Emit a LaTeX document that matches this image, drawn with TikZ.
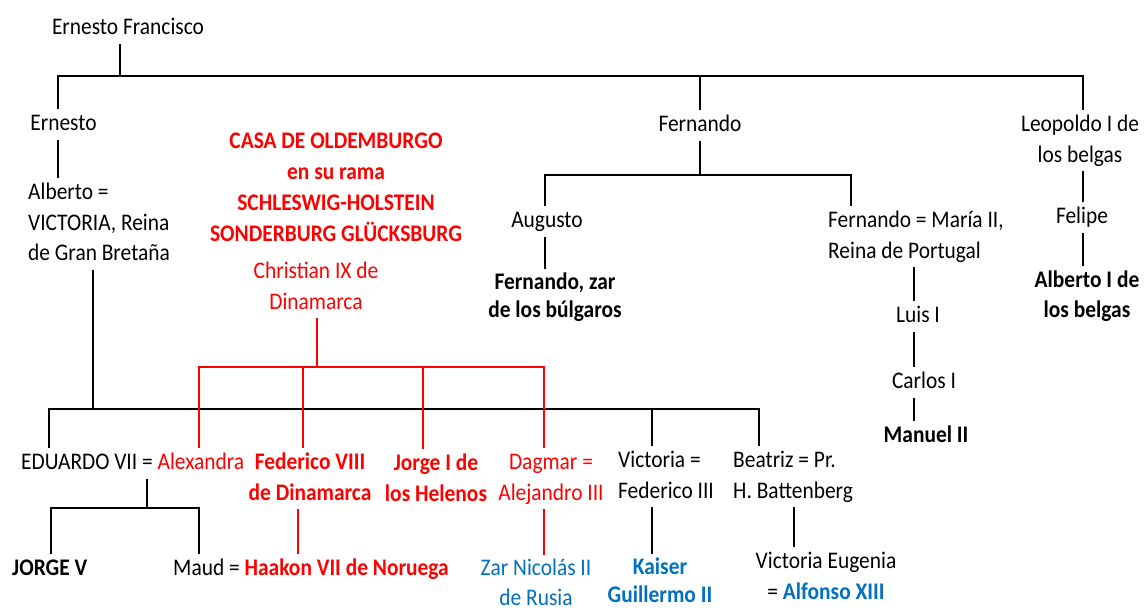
\documentclass[tikz,border=0pt]{standalone}
\usepackage{fontspec}
\setmainfont{Carlito}[FakeStretch=0.9]
\definecolor{myblue}{RGB}{0,112,192}
\definecolor{myred}{RGB}{255,0,0}
\begin{document}
\begin{tikzpicture}[x=1pt,y=-1pt,
  txt/.style={inner sep=0pt, font=\fontsize{23.8}{30.5}\selectfont,
    execute at begin node=\strut, execute at end node=\strut},
  ctr/.style={txt, anchor=north, align=center},
  lft/.style={txt, anchor=north west, align=left},
  nodepth/.style={execute at end node={}},
  bl/.style={draw=black, line width=2pt},
  rl/.style={draw=myred, line width=2pt},
  rt/.style={text=myred},
  bt/.style={text=myblue}]
\fill[white] (0,0) rectangle (1144,610);
\useasboundingbox (0,0) rectangle (1144,610);

% nodes
\node[ctr] (EF) at (128,13) {Ernesto Francisco};
\node[ctr] (Ern) at (63.5,109) {Ernesto};
\node[lft] (Alb) at (28,178) {\strut Alberto =\\VICTORIA, Reina\\de Gran Bretaña};
\node[ctr, rt, font=\fontsize{23.8}{31}\selectfont\bfseries] (Casa) at (336,127)
  {\strut CASA DE OLDEMBURGO\\en su rama\\SCHLESWIG-HOLSTEIN\\SONDERBURG GLÜCKSBURG};
\node[ctr, rt] (Chr) at (316,257) {\strut Christian IX de\\Dinamarca};
\node[ctr] (Fdo) at (700,110) {Fernando};
\node[ctr] (Aug) at (547,206) {Augusto};
\node[ctr, font=\fontsize{23.8}{28.5}\selectfont\bfseries] (FZar) at (555,269) {\strut Fernando, zar\\de los búlgaros};
\node[lft] (FM) at (828,206) {\strut Fernando = María II,\\Reina de Portugal};
\node[ctr] (Luis) at (918,301) {Luis I};
\node[ctr] (Carlos) at (924,367) {Carlos I};
\node[ctr, font=\fontsize{23.8}{30.5}\selectfont\bfseries] (Manuel) at (926,421) {Manuel II};
\node[ctr] (Leo) at (1080,110) {\strut Leopoldo I de\\los belgas};
\node[ctr] (Felipe) at (1082,202) {Felipe};
\node[ctr, font=\fontsize{23.8}{30}\selectfont\bfseries] (AlbI) at (1087,266) {\strut Alberto I de\\los belgas};
\node[lft] (Edu) at (21,448) {EDUARDO VII = \textcolor{myred}{Alexandra}};
\node[ctr, rt, font=\fontsize{23.8}{30.5}\selectfont\bfseries] (Fed8) at (310,448) {\strut Federico VIII\\de Dinamarca};
\node[ctr, rt, font=\fontsize{23.8}{30.5}\selectfont\bfseries] (Jorge1) at (436,449) {\strut Jorge I de\\los Helenos};
\node[ctr, rt] (Dag) at (551,448) {\strut Dagmar =\\Alejandro III};
\node[lft] (Vic) at (618,446) {\strut Victoria =\\Federico III};
\node[lft] (Bea) at (733,446) {\strut Beatriz = Pr.\\H. Battenberg};
\node[lft, font=\fontsize{23.8}{30.5}\selectfont\bfseries] (JV) at (12,554) {JORGE V};
\node[lft] (Maud) at (173,554) {Maud = \textcolor{myred}{\bfseries Haakon VII de Noruega}};
\node[ctr, bt, nodepth, font=\fontsize{23.8}{29.5}\selectfont] (Zar) at (536,555) {\strut Zar Nicolás II\\de Rusia};
\node[ctr, bt, nodepth, font=\fontsize{23.8}{28.5}\selectfont\bfseries] (Kai) at (660,554) {\strut Kaiser\\Guillermo II};
\node[ctr, nodepth] (VE) at (826,547) {\strut Victoria Eugenia\\= \textcolor{myblue}{\bfseries Alfonso XIII}};

% junction coordinates
\coordinate (tA) at (120,76);
\coordinate (tL) at (58,76);
\coordinate (tF) at (700,76);
\coordinate (tR) at (1083,76);
\coordinate (mA) at (93,409);
\coordinate (mL) at (49,409);
\coordinate (mV) at (652,409);
\coordinate (mB) at (759,409);
\coordinate (fF) at (700,175);
\coordinate (fL) at (545,175);
\coordinate (fR) at (851,175);
\coordinate (pl) at (914,300);
\coordinate (e0) at (147,508);
\coordinate (eL) at (51,508);
\coordinate (eR) at (199,508);
\coordinate (bx) at (794,530);
\coordinate (r0) at (317,367);
\coordinate (r1) at (199,367);
\coordinate (r2) at (303,367);
\coordinate (r3) at (423,367);
\coordinate (r4) at (544,367);
\coordinate (rf) at (298,530);

% black connectors
\draw[bl] (EF.south -| tA) -- (tA);
\draw[bl] (Ern.north -| tL) -- (tL) -- (tR) -- (Leo.north -| tR);
\draw[bl] (tF) -- (Fdo.north -| tF);
\draw[bl] (Ern.south -| tL) -- (Alb.north -| tL);
\draw[bl] (Alb.south -| mA) -- (mA);
\draw[bl] (Edu.north -| mL) -- (mL) -- (mB) -- (Bea.north -| mB);
\draw[bl] (mV) -- (Vic.north -| mV);
\draw[bl] (Fdo.south -| fF) -- (fF);
\draw[bl] (Aug.north -| fL) -- (fL) -- (fR) -- (FM.north -| fR);
\draw[bl] (Aug.south -| fL) -- (FZar.north -| fL);
\draw[bl] (FM.south -| pl) -- (Luis.north -| pl);
\draw[bl] (Luis.south -| pl) -- (Carlos.north -| pl);
\draw[bl] (Carlos.south -| pl) -- (Manuel.north -| pl);
\draw[bl] (Leo.south -| tR) -- (Felipe.north -| tR);
\draw[bl] (Felipe.south -| tR) -- (AlbI.north -| tR);
\draw[bl] (Edu.south -| e0) -- (e0);
\draw[bl] (JV.north -| eL) -- (eL) -- (eR) -- (Maud.north -| eR);
\draw[bl] (Vic.south -| mV) -- (Kai.north -| mV);
\draw[bl] (Bea.south -| bx) -- (VE.north -| bx);

% red connectors
\draw[rl] (Chr.south -| r0) -- (r0);
\draw[rl] (Edu.north -| r1) -- (r1) -- (r4) -- (Dag.north -| r4);
\draw[rl] (r2) -- (Fed8.north -| r2);
\draw[rl] (r3) -- (Jorge1.north -| r3);
\draw[rl] (Fed8.south -| rf) -- (Maud.north -| rf);
\draw[rl] (Dag.south -| r4) -- (Zar.north -| r4);
\end{tikzpicture}
\end{document}
